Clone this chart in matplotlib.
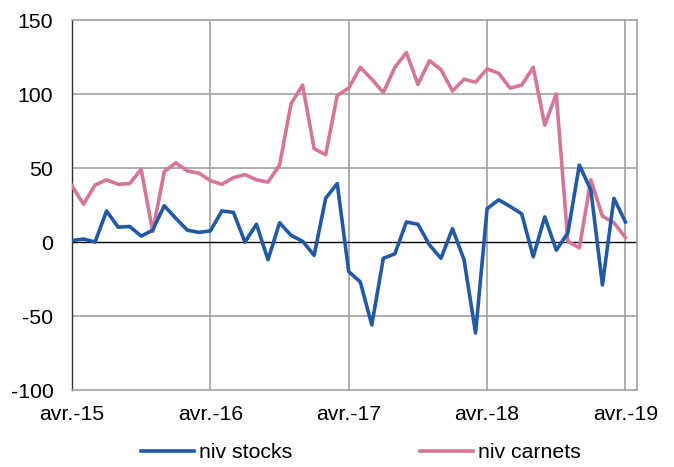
import matplotlib
matplotlib.use("Agg")
import matplotlib.pyplot as plt

plt.rcParams['font.family'] = ['Liberation Sans', 'DejaVu Sans']
plt.rcParams['axes.unicode_minus'] = False

# monthly data, avr.-15 .. avr.-19
tick_labels = ['avr.-15', 'avr.-16', 'avr.-17', 'avr.-18', 'avr.-19']

niv_stocks = [1, 2, 0, 21, 10, 10.5, 4, 8, 24.5, 16, 8, 6.5,
              7.5, 21, 20, 0, 12, -12, 13, 4.5, 0.5, -9, 29.5, 39.5,
              -20, -27, -56, -11, -8, 13.5, 12, -2, -11, 9, -12, -61.5,
              22.5, 28.5, 24, 19, -10, 17, -5.5, 6, 52, 35, -29, 29.5,
              13.5]

niv_carnets = [38, 25.5, 38.5, 42, 39, 39.5, 49, 7, 47.5, 53.5, 48, 46.5,
               41.5, 39, 43.5, 45.5, 42, 40.5, 52, 93.5, 106, 63, 59, 99,
               104, 118, 110, 101, 118, 128, 106.5, 122.5, 116.5, 102, 110, 108,
               117, 114, 104, 106, 118, 79, 100, 0.5, -4, 42, 17.5, 13,
               3]

x = list(range(len(niv_stocks)))

fig = plt.figure(figsize=(6.74, 4.67), dpi=100)
ax = fig.add_axes([72 / 674, 1 - 390 / 467, (637 - 72) / 674, (390 - 20) / 467])

grid_c = '#a0a0a0'
for yv in [100, 50, -50]:
    ax.axhline(yv, color=grid_c, lw=1.2, zorder=1)
for xv in [12, 24, 36, 48]:
    ax.axvline(xv, color=grid_c, lw=1.2, zorder=1)
ax.axhline(0, color='black', lw=1.0, zorder=2)

ax.plot(x, niv_stocks, color='#2159a6', lw=2.6, label='niv stocks', zorder=4)
ax.plot(x, niv_carnets, color='#d47599', lw=2.6, label='niv carnets', zorder=3)

ax.set_xlim(0, 49)
ax.set_ylim(-100, 150)
ax.set_yticks([-100, -50, 0, 50, 100, 150])
ax.set_xticks([0, 12, 24, 36, 48])
ax.set_xticklabels(tick_labels)
ax.tick_params(axis='both', length=0, labelsize=15.3, colors='black')
ax.tick_params(axis='y', pad=13.5)
ax.tick_params(axis='x', pad=10.5)

for side in ['top', 'right', 'bottom']:
    ax.spines[side].set_color(grid_c)
    ax.spines[side].set_linewidth(1.2)
ax.spines['left'].set_color('#303030')
ax.spines['left'].set_linewidth(1.0)

fig.legend(loc='center', bbox_to_anchor=(361 / 674, 1 - 453 / 467), ncol=2,
           frameon=False, fontsize=15.3, handlelength=2.5, handletextpad=0.25,
           columnspacing=6.0)

fig.savefig('out.png', dpi=100)
